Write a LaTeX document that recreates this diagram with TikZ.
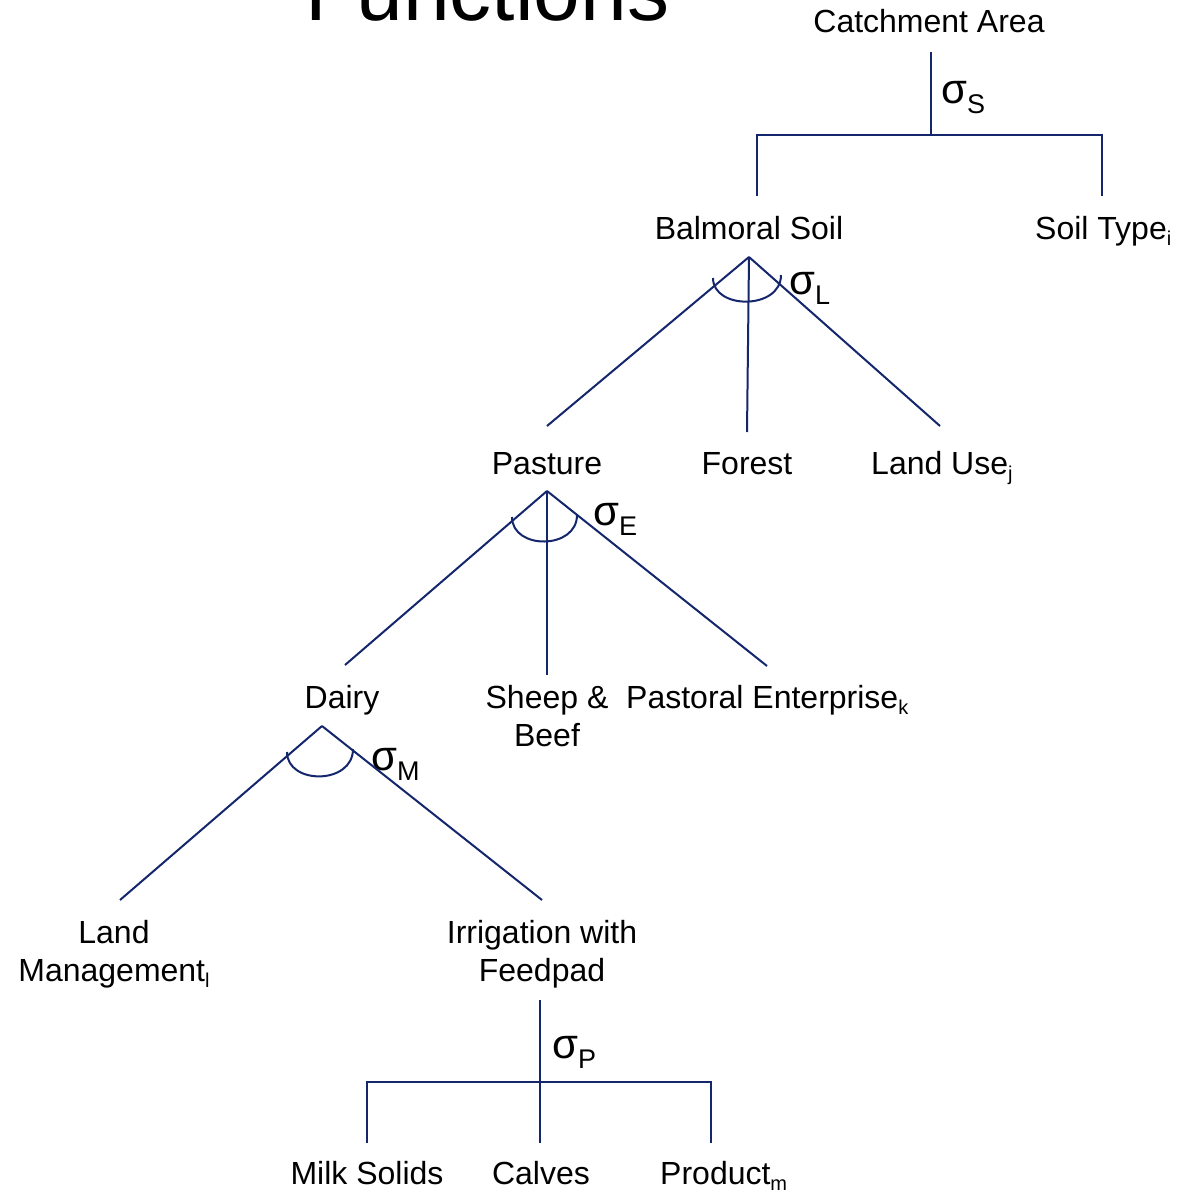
\documentclass[tikz,border=0pt]{standalone}
\usepackage{fontspec}
\setmainfont{Liberation Sans}
\definecolor{ln}{RGB}{20,38,108}
\newcommand{\tsub}[1]{\raisebox{-6pt}{\fontsize{20}{20}\selectfont #1}}
\newcommand{\sigsub}[1]{{\fontsize{42}{42}\selectfont σ}\raisebox{-10pt}{\fontsize{27}{27}\selectfont #1}}
\begin{document}
\begin{tikzpicture}[x=1pt,y=-1pt,
  lbl/.style={font=\fontsize{32}{38}\selectfont, inner sep=0pt, anchor=base},
  lblw/.style={lbl, anchor=base west},
  two/.style={lbl, align=center},
  sig/.style={inner sep=0pt, anchor=base west},
  conn/.style={draw=ln, line width=2pt},
  title/.style={font=\fontsize{84}{84}\selectfont, inner sep=0pt, anchor=base west}]
\useasboundingbox (0,0) rectangle (1176,1193);
\fill[white] (0,0) rectangle (1176,1193);

% title (cut off at the top, as in the reference)
\node[title] (title) at (305,21) {Functions};

% labels
\node[lbl] (catch) at (929,33) {Catchment Area};
\node[lbl] (balm) at (749,239) {Balmoral Soil};
\node[lblw] (soilt) at (1035,239) {Soil Type\tsub{i}};
\node[lbl] (past) at (547,474) {Pasture};
\node[lbl] (forest) at (747,474) {Forest};
\node[lblw] (landuse) at (871,474) {Land Use\tsub{j}};
\node[lbl] (dairy) at (342,708) {Dairy};
\node[two] (sheep) at (547,746) {Sheep \&\\Beef};
\node[lblw] (pastent) at (626,708) {Pastoral Enterprise\tsub{k}};
\node[two] (landman) at (114,981) {Land\\Management\tsub{l}};
\node[two] (irrig) at (542,981) {Irrigation with\\Feedpad};
\node[lbl] (milk) at (367,1184) {Milk Solids};
\node[lbl] (calves) at (541,1184) {Calves};
\node[lblw] (product) at (660,1184) {Product\tsub{m}};

% sigma labels
\node[sig] (sS) at (941,104) {\sigsub{S}};
\node[sig] (sL) at (789,294) {\sigsub{L}};
\node[sig] (sE) at (593,525) {\sigsub{E}};
\node[sig] (sM) at (371,770) {\sigsub{M}};
\node[sig] (sP) at (552,1058) {\sigsub{P}};

% connector points
\coordinate (cA) at (931,52);
\coordinate (cJ) at (931,135);
\coordinate (cL) at (757,135);
\coordinate (cR) at (1102,135);
\coordinate (cLd) at (757,196);
\coordinate (cRd) at (1102,196);

\coordinate (bA) at (749,257);
\coordinate (bL) at (547,426);
\coordinate (bM) at (747,432);
\coordinate (bR) at (940,426);

\coordinate (pA) at (547,491);
\coordinate (pL) at (345,665);
\coordinate (pM) at (547,675);
\coordinate (pR) at (767,666);

\coordinate (dA) at (322,726);
\coordinate (dL) at (120,900);
\coordinate (dR) at (542,900);

\coordinate (iA) at (540,1000);
\coordinate (iB) at (540,1143);
\coordinate (iL) at (367,1082);
\coordinate (iR) at (711,1082);
\coordinate (iLd) at (367,1143);
\coordinate (iRd) at (711,1143);

% connectors
\draw[conn] (cA) -- (cJ);
\draw[conn] (cLd) -- (cL) -- (cR) -- (cRd);

\draw[conn] (bA) -- (bL);
\draw[conn] (bA) -- (bM);
\draw[conn] (bA) -- (bR);
\draw[conn] (713,278) .. controls (713,310) and (781,310) .. (781,275);

\draw[conn] (pA) -- (pL);
\draw[conn] (pA) -- (pM);
\draw[conn] (pA) -- (pR);
\draw[conn] (512,517) .. controls (512,550) and (577,550) .. (577,515);

\draw[conn] (dA) -- (dL);
\draw[conn] (dA) -- (dR);
\draw[conn] (287,752) .. controls (287,785) and (353,785) .. (353,749);

\draw[conn] (iA) -- (iB);
\draw[conn] (iLd) -- (iL) -- (iR) -- (iRd);
\end{tikzpicture}
\end{document}
